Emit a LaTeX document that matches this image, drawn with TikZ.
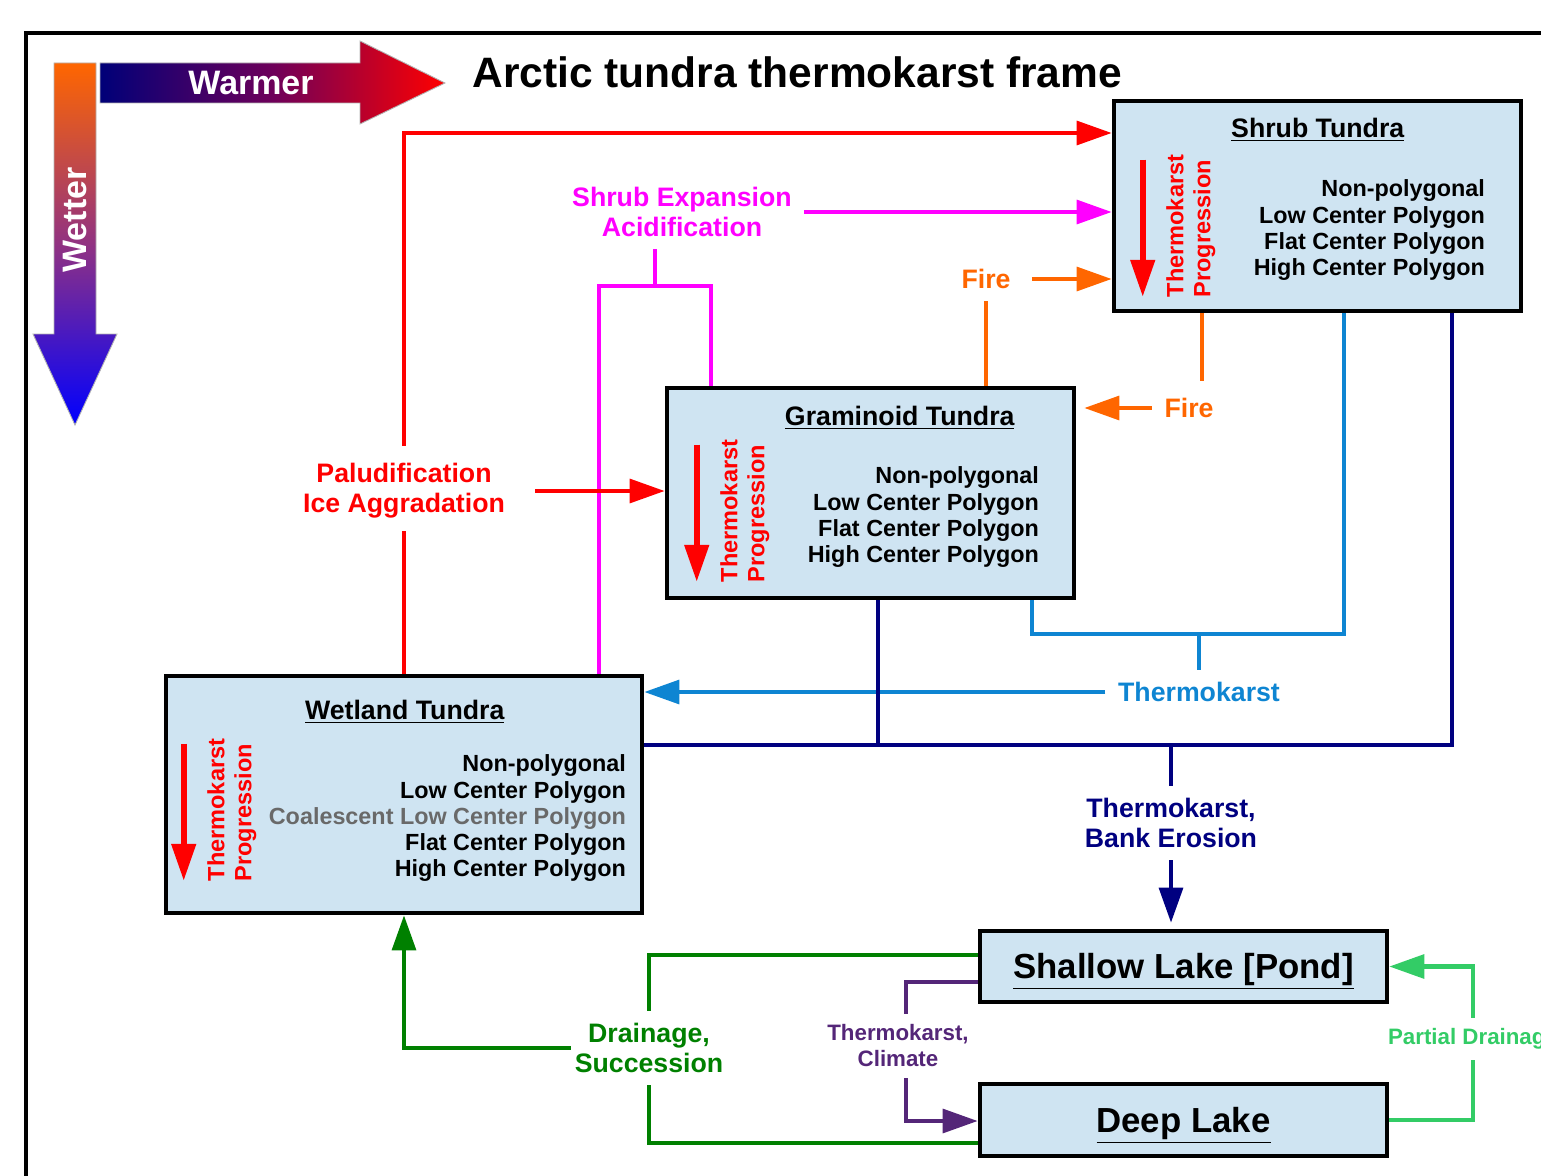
\documentclass[tikz,border=0pt]{standalone}
\usepackage{fontspec}
\setmainfont{Liberation Sans}
\usepackage{tikz}
\usetikzlibrary{calc, positioning, arrows.meta, backgrounds}

\newlength{\pxu}
\setlength{\pxu}{0.02cm}

\definecolor{boxblue}{RGB}{207,228,242}
\definecolor{shrubmag}{RGB}{255,0,255}
\definecolor{fireor}{RGB}{255,102,0}
\definecolor{tkblue}{RGB}{14,133,210}
\definecolor{tknavy}{RGB}{0,0,128}
\definecolor{drgreen}{RGB}{0,128,0}
\definecolor{clpurple}{RGB}{84,38,120}
\definecolor{pdgreen}{RGB}{51,204,102}
\definecolor{coalgrey}{RGB}{105,105,105}
\definecolor{warmL}{RGB}{0,0,120}
\definecolor{warmM}{RGB}{110,0,90}
\definecolor{wetM}{RGB}{145,50,130}

\tikzset{
  tbox/.style={draw=black, line width=2.6pt, fill=boxblue, inner sep=0pt},
  ttl/.style={font=\fontsize{15.2}{17}\selectfont\bfseries, inner sep=0pt, anchor=base},
  rowtxt/.style={font=\fontsize{13.3}{15}\selectfont\bfseries, inner sep=0pt, anchor=base east},
  prog/.style={font=\fontsize{13.4}{15.4}\selectfont\bfseries, text=red, align=left,
    rotate=90, anchor=south west, inner sep=0pt},
  progarr/.style={draw=red, line width=3.2pt, -{Triangle[length=21pt,width=13.5pt]}},
  laketxt/.style={font=\fontsize{19.8}{23}\selectfont\bfseries, text height=14.2pt, text depth=0pt},
  lbl/.style={font=\fontsize{15.2}{17.1}\selectfont\bfseries, align=center, inner sep=7pt},
  slbl/.style={font=\fontsize{12.7}{14.8}\selectfont\bfseries, align=center, inner sep=6pt},
  conn/.style={line width=2.4pt},
  flow/.style={conn, -{Triangle[length=20pt,width=13.5pt]}},
}

% red progression arrow and its text inside a tundra box
% 1: box name, 2: x shift, 3: y shift
\newcommand{\Progress}[3]{%
  \coordinate (#1/p0) at ($(#1.north west)+(31,61)+(#2,#3)$);
  \coordinate (#1/p1) at ($(#1.north west)+(31,198)+(#2,#3)$);
  \draw[progarr] (#1/p0) -- (#1/p1);
  \node[prog] (#1/prog) at ($(#1.north west)+(104,199)+(#2,#3)$) {Thermokarst\\Progression};
}

% right aligned polygon rows
% 1: box name, 2: right inset, 3: rows
\newcommand{\Rows}[3]{%
  \foreach \rw [count=\i from 0] in {#3}{
    \node[rowtxt] (#1/row\i) at ($(#1.north east)+(-#2,98)+(0,26.3*\i)$) {\rw};
  }
}

\begin{document}
\begin{tikzpicture}[x=0.02cm, y=-0.02cm]
    \useasboundingbox (0,0) rectangle (1541,1176);
    \clip (0,0) rectangle (1541,1176);

    % frame
    \draw[line width=2.3pt] (26,1200) -- (26,33) -- (1560,33);

    % gradient axes
    \shadedraw[left color=warmL, right color=red, middle color=warmM, draw=gray!60, line width=0.5pt]
        (100,63) -- (360,63) -- (360,41) -- (445,83) -- (360,124) -- (360,103) -- (100,103) -- cycle;
    \node[font=\fontsize{19.3}{22}\selectfont\bfseries, text=white] (warmer) at (251,83) {Warmer};
    \shadedraw[top color=fireor, bottom color=blue, middle color=wetM, draw=gray!60, line width=0.5pt]
        (54,63) -- (96,63) -- (96,334) -- (117,334) -- (75,425) -- (33,334) -- (54,334) -- cycle;
    \node[font=\fontsize{19.3}{22}\selectfont\bfseries, text=white, rotate=90] (wetter) at (75,220) {Wetter};

    \node[font=\fontsize{24.2}{29}\selectfont\bfseries, anchor=base west, inner sep=0pt] (title)
        at (472,88) {Arctic tundra thermokarst frame};

    % tundra boxes
    \node[tbox, minimum width=407\pxu, minimum height=210\pxu] (shrub) at (1317.5,206) {};
    \node[tbox, minimum width=407\pxu, minimum height=210\pxu] (gram) at (870.5,493) {};
    \node[tbox, minimum width=476\pxu, minimum height=237\pxu] (wet) at (404,794.5) {};

    \node[ttl] (shrub/ttl) at ($(shrub.north west)+(206,39)$) {\underline{Shrub Tundra}};
    \node[ttl] (gram/ttl) at ($(gram.north west)+(235,40)$) {\underline{Graminoid Tundra}};
    \node[ttl] (wet/ttl) at ($(wet.north west)+(241,46)$) {\underline{Wetland Tundra}};

    \Progress{shrub}{0}{0}
    \Progress{gram}{1}{-2}
    \Progress{wet}{-11}{9}

    \Rows{shrub}{38}{Non-polygonal, Low Center Polygon, Flat Center Polygon, High Center Polygon}
    \Rows{gram}{37}{Non-polygonal, Low Center Polygon, Flat Center Polygon, High Center Polygon}
    \Rows{wet}{18}{Non-polygonal, Low Center Polygon, \textcolor{coalgrey}{Coalescent Low Center Polygon},
        Flat Center Polygon, High Center Polygon}

    % lakes
    \node[tbox, laketxt, minimum width=407\pxu, minimum height=71\pxu] (shallow) at (1183.5,966.5)
        {\underline{Shallow Lake [Pond]}};
    \node[tbox, laketxt, minimum width=407\pxu, minimum height=72\pxu] (deep) at (1183.5,1120)
        {\underline{Deep Lake}};

    % process labels
    \node[lbl, text=red] (palu) at (404,491) {Paludification\\Ice Aggradation};
    \node[lbl, text=shrubmag] (sexp) at (682,212) {Shrub Expansion\\Acidification};
    \node[lbl, text=fireor] (fireA) at (986,279) {Fire};
    \node[lbl, text=fireor] (fireB) at (1189,408) {Fire};
    \node[lbl, text=tkblue] (tkthaw) at (1199,692) {Thermokarst};
    \node[lbl, text=tknavy] (tkbank) at (1171,823) {Thermokarst,\\Bank Erosion};
    \node[lbl, text=drgreen] (drain) at (649,1048) {Drainage,\\Succession};
    \node[slbl, text=clpurple] (tkclim) at (898,1046) {Thermokarst,\\Climate};
    \node[slbl, text=pdgreen] (pdrain) at (1473,1039) {Partial Drainage};

    \coordinate (paltop) at (404,133);
    \coordinate (mjoin) at (655,286);
    \coordinate (mwet) at (599,286);
    \coordinate (mgram) at (711,286);
    \coordinate (fdrop) at (1202,381);
    \coordinate (bl) at (1032,634);
    \coordinate (br) at (1344,634);
    \coordinate (nl) at (878,745);
    \coordinate (nr) at (1452,745);
    \coordinate (gtop) at (649,955);
    \coordinate (gbot) at (649,1143);
    \coordinate (ptop) at (906,982);
    \coordinate (pbot) at (906,1121);

    \begin{scope}[on background layer]
        % shrub expansion
        \draw[conn, shrubmag] (mwet |- wet.north) -- (mwet) -- (mgram) -- (mgram |- gram.north);
        \draw[conn, shrubmag] (mjoin) -- (mjoin |- sexp.south);
        \draw[flow, shrubmag] (sexp.east) -- (sexp.east -| shrub.west);

        % paludification
        \draw[conn, red] (wet.north) -- (palu.south);
        \draw[flow, red, shorten <=3pt] (palu.north) -- (paltop) -- (paltop -| shrub.west);
        \draw[flow, red, shorten <=10pt] (palu.east) -- (palu.east -| gram.west);

        % fire
        \draw[conn, fireor] (fireA |- gram.north) -- (fireA.south);
        \draw[flow, fireor, shorten <=5pt] (fireA.east) -- (fireA.east -| shrub.west);
        \draw[conn, fireor] (fdrop |- shrub.south) -- (fdrop);
        \draw[flow, fireor, shorten >=8\pxu] (fireB.west) -- (fireB.west -| gram.east);

        % thermokarst
        \draw[conn, tkblue] (bl |- gram.south) -- (bl) -- (br) -- (br |- shrub.south);
        \draw[conn, tkblue] (tkthaw |- bl) -- (tkthaw.north);
        \draw[flow, tkblue] (tkthaw.west) -- (tkthaw.west -| wet.east);

        \draw[conn, tknavy] (nl |- gram.south) -- (nl);
        \draw[conn, tknavy] (wet.east |- nl) -- (nr) -- (nr |- shrub.south);
        \draw[conn, tknavy] (tkbank |- nl) -- (tkbank.north);
        \draw[flow, tknavy, shorten >=6\pxu] (tkbank.south) -- (tkbank.south |- shallow.north);

        % lakes
        \draw[conn, drgreen] (shallow.west |- gtop) -- (gtop) -- (drain.north);
        \draw[conn, drgreen] (drain.south) -- (gbot) -- (gbot -| deep.west);
        \draw[flow, drgreen, shorten <=-5pt] (drain.west) -| (wet.south);

        \draw[conn, clpurple] (shallow.west |- ptop) -- (ptop) -- (ptop |- tkclim.north);
        \draw[flow, clpurple] (ptop |- tkclim.south) -- (pbot) -- (pbot -| deep.west);

        \draw[conn, pdgreen] (deep.east) -| (pdrain.south);
        \draw[flow, pdgreen] (pdrain.north) |- (shallow.east);
    \end{scope}
\end{tikzpicture}
\end{document}
